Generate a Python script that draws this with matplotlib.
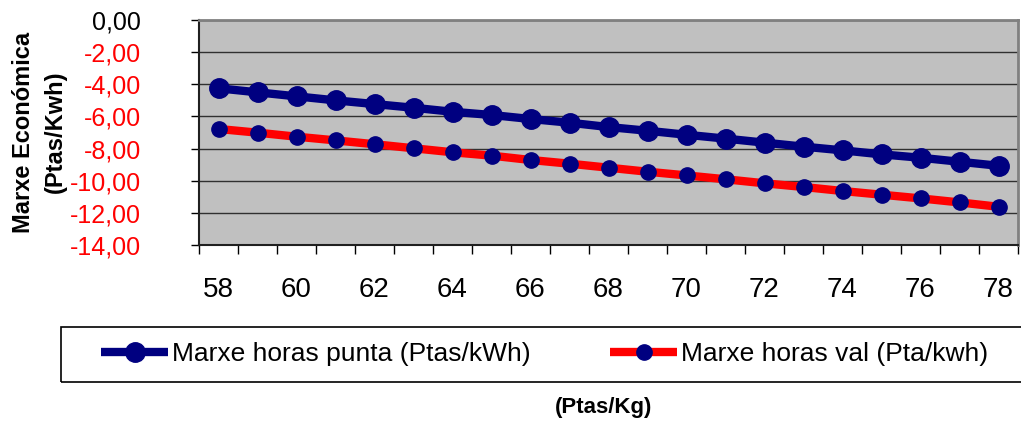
import matplotlib.pyplot as plt
from matplotlib.patches import Rectangle
from matplotlib.ticker import FixedLocator, FuncFormatter

plt.rcParams['font.family'] = ['Liberation Sans', 'DejaVu Sans']

# price of fuel (Ptas/Kg) and the resulting margins
precios = list(range(58, 79))
marxe_punta = [-4.25, -4.50, -4.75, -5.00, -5.23, -5.46, -5.71, -5.91, -6.16, -6.39, -6.66,
               -6.89, -7.14, -7.38, -7.63, -7.88, -8.11, -8.36, -8.57, -8.82, -9.07]
marxe_val = [-6.78, -7.01, -7.26, -7.49, -7.73, -7.98, -8.23, -8.44, -8.71, -8.94, -9.19,
             -9.44, -9.67, -9.91, -10.16, -10.39, -10.64, -10.87, -11.10, -11.35, -11.62]
etiqueta_punta = 'Marxe horas punta (Ptas/kWh)'
etiqueta_val = 'Marxe horas val (Pta/kwh)'
y_ticks = [0, -2, -4, -6, -8, -10, -12, -14]

W, H = 1021, 421
fig = plt.figure(figsize=(W / 100, H / 100), dpi=100)
ax = fig.add_axes([199 / W, 1 - 245 / H, (1018 - 199) / W, (245 - 20) / H])
ax.set_facecolor('#c0c0c0')

pos = list(range(len(precios)))
ax.plot(pos, marxe_punta, color='#000080', lw=6, marker='o', ms=14,
        mfc='#000080', mec='#000080', label=etiqueta_punta, zorder=4, solid_capstyle='butt')
ax.plot(pos, marxe_val, color='#ff0000', lw=6, marker='o', ms=11,
        mfc='#000080', mec='#000080', label=etiqueta_val, zorder=3, solid_capstyle='butt')

ax.set_xlim(-0.5, len(precios) - 0.5)
ax.set_ylim(-14, 0)

# y axis
ax.set_yticks(y_ticks)
ax.yaxis.set_major_formatter(FuncFormatter(lambda v, p: f'{v:.2f}'.replace('.', ',')))
ax.tick_params(axis='y', direction='out', length=6, width=1, pad=36, labelsize=18)
for lab, v in zip(ax.get_yticklabels(), y_ticks):
    lab.set_color('black' if v == 0 else '#ff0000')
ax.grid(axis='y', color='#303030', lw=1)

# x axis: tick marks between categories, labels on even prices
ax.xaxis.set_major_locator(FixedLocator([p - 0.5 for p in range(len(precios) + 1)]))
ax.xaxis.set_major_formatter(FuncFormatter(lambda v, p: ''))
lab_pos = [p for p, v in zip(pos, precios) if v % 2 == 0]
ax.xaxis.set_minor_locator(FixedLocator(lab_pos))
ax.xaxis.set_minor_formatter(FuncFormatter(lambda v, p: str(precios[int(round(v))])))
ax.tick_params(axis='x', which='major', direction='out', length=6.5, width=1)
ax.tick_params(axis='x', which='minor', length=0, pad=23, labelsize=20)

for side in ['top', 'right']:
    ax.spines[side].set_color('#808080')
    ax.spines[side].set_linewidth(2)
for side in ['left', 'bottom']:
    ax.spines[side].set_color('#202020')
    ax.spines[side].set_linewidth(1.5)

fig.text(39 / W, 1 - 132 / H, 'Marxe Económica\n(Ptas/Kwh)', rotation=90,
         ha='center', va='center', ma='center', fontsize=17, fontweight='bold',
         linespacing=1.5)

# legend box running off the right edge
fig.patches.append(Rectangle((61 / W, 1 - 382 / H), (1040 - 61) / W, 55 / H,
                             transform=fig.transFigure, fill=False,
                             edgecolor='black', lw=1.2))
fig.legend(loc='center left', bbox_to_anchor=(101 / W, 1 - 354 / H), ncol=2,
           frameon=False, fontsize=19, handlelength=2.55, handletextpad=0.15,
           columnspacing=3.0, borderpad=0, borderaxespad=0, markerscale=1.0)

fig.text(604 / W, 1 - 408 / H, '(Ptas/Kg)', ha='center', va='center',
         fontsize=16, fontweight='bold')

fig.savefig('out.png', dpi=100)
